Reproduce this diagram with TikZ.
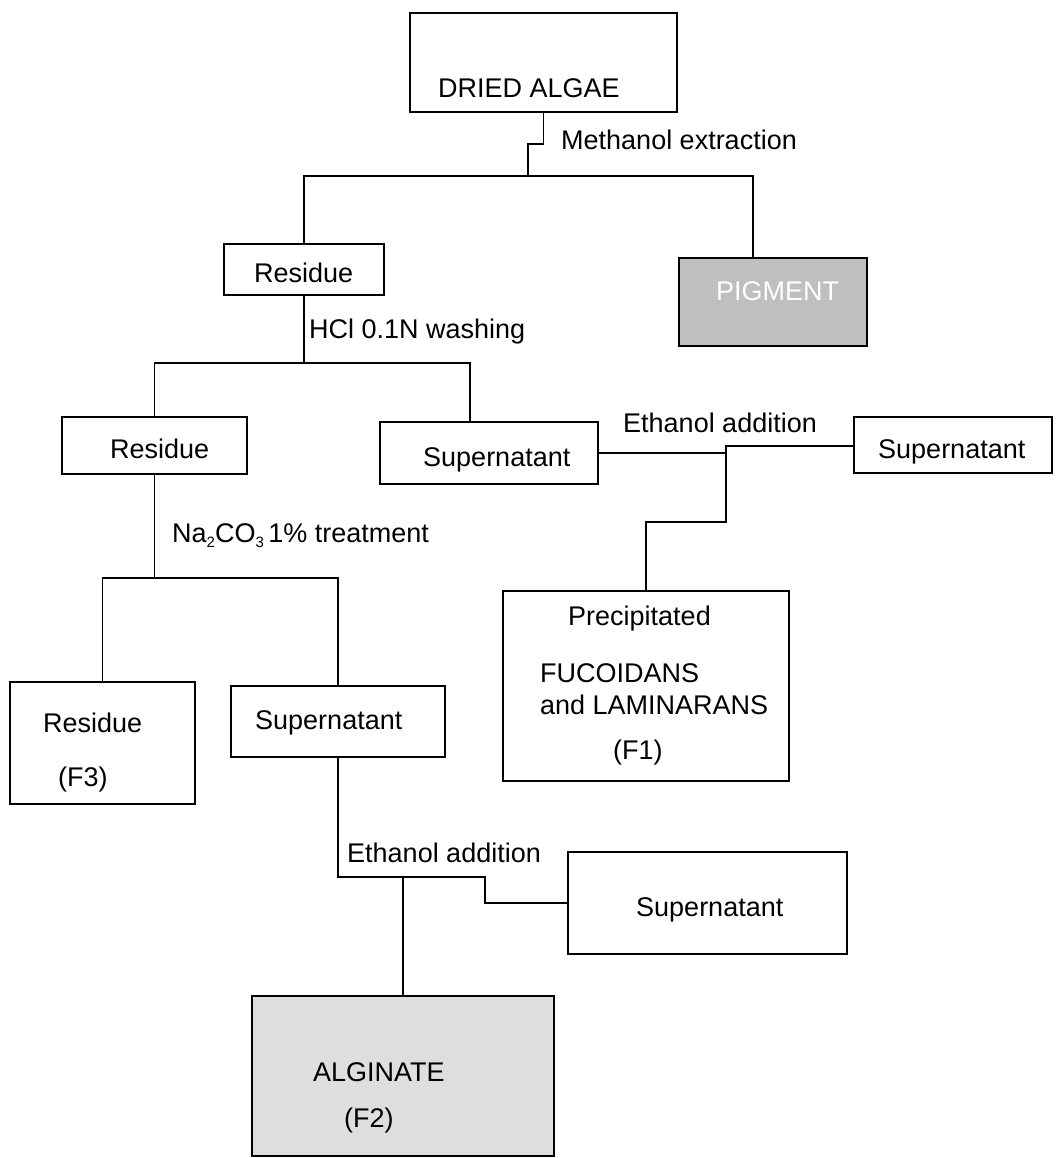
\documentclass[tikz,border=0pt]{standalone}
\usepackage{fontspec}
\setmainfont{Liberation Sans}
\usepackage{tikz}
\usetikzlibrary{calc, positioning}

\definecolor{pigfill}{gray}{0.75}
\definecolor{algfill}{gray}{0.87}

\newcommand{\lowsub}[1]{\raisebox{-5pt}{\fontsize{15}{15}\selectfont #1}}

\tikzset{
	box/.style={draw, line width=1.5pt, rectangle, inner sep=0pt},
	txt/.style={inner sep=0pt, anchor=west, text height=19pt, text depth=0pt,
		font=\fontsize{27}{32}\selectfont},
	link/.style={line width=1.4pt}
}

\begin{document}
\begin{tikzpicture}[x=1pt, y=-1pt]
		\useasboundingbox (0,0) rectangle (1058,1158);
% boxes
		\node[box, minimum width=267, minimum height=99] (algae) at (543.5,62.5) {};
		\node[box, minimum width=160, minimum height=51] (res1) at (304,269.5) {};
		\node[box, fill=pigfill, minimum width=188, minimum height=88] (pig) at (773,302) {};
		\node[box, minimum width=185, minimum height=57] (res2) at (154.5,445.5) {};
		\node[box, minimum width=218, minimum height=62] (sup1) at (489,453) {};
		\node[box, minimum width=198, minimum height=56] (supR) at (953,445) {};
		\node[box, minimum width=286, minimum height=190] (prec) at (646,686) {};
		\node[box, minimum width=185, minimum height=122] (res3) at (102.5,743) {};
		\node[box, minimum width=214, minimum height=71] (sup2) at (338,721.5) {};
		\node[box, minimum width=279, minimum height=102] (sup3) at (707.5,903) {};
		\node[box, fill=algfill, minimum width=302, minimum height=160] (alg) at (403,1076) {};

% texts
		\node[txt] (algae-t) at (438,88) {DRIED ALGAE};
		\node[txt] (meth-t) at (561,140) {Methanol extraction};
		\node[txt] (res1-t) at (254,273) {Residue};
		\node[txt, text=white] (pig-t) at (716,291) {PIGMENT};
		\node[txt] (hcl-t) at (309,329) {HCl 0.1N washing};
		\node[txt] (res2-t) at (110,449) {Residue};
		\node[txt] (sup1-t) at (423,457) {Supernatant};
		\node[txt] (eth1-t) at (623,423) {Ethanol addition};
		\node[txt] (supR-t) at (878,449) {Supernatant};
		\node[txt] (na-t) at (172,533) {Na\lowsub{2}CO\lowsub{3}\,1\% treatment};
		\node[txt] (prec-t) at (568,616) {Precipitated};
		\node[txt] (fuc-t) at (540,673) {FUCOIDANS};
		\node[txt] (lam-t) at (540,705) {and LAMINARANS};
		\node[txt] (f1-t) at (613,750) {(F1)};
		\node[txt] (res3-t) at (43,723) {Residue};
		\node[txt] (f3-t) at (58,777) {(F3)};
		\node[txt] (sup2-t) at (255,720) {Supernatant};
		\node[txt] (eth2-t) at (347,853) {Ethanol addition};
		\node[txt] (sup3-t) at (636,907) {Supernatant};
		\node[txt] (alg-t) at (313,1072) {ALGINATE};
		\node[txt] (f2-t) at (344,1118) {(F2)};

% connectors
		\coordinate (m1) at (528,176);
		\coordinate (h1) at (304,363);
		\coordinate (n1) at (154.5,578);
		\coordinate (e1) at (726,446);
		\coordinate (e2) at (403,877);
		\draw[link] (algae.south) |- (528,144) -- (m1);
		\draw[link] (res1.north) |- (m1) -| ([xshift=-20pt]pig.north);
		\draw[link] (res1.south) -- (h1);
		\draw[link] (res2.north) |- (h1) -| ([xshift=-19pt]sup1.north);
		\draw[link] (res2.south) -- (n1);
		\draw[link] (res3.north) |- (n1) -| (sup2.north);
		\draw[link] (sup1.east) -| (e1) -- (e1 -| supR.west);
		\draw[link] (e1) -- (726,522) -| (prec.north);
		\draw[link] (sup2.south) |- (485,877) |- (sup3.west);
		\draw[link] (e2) -- (alg.north);

\end{tikzpicture}
\end{document}
